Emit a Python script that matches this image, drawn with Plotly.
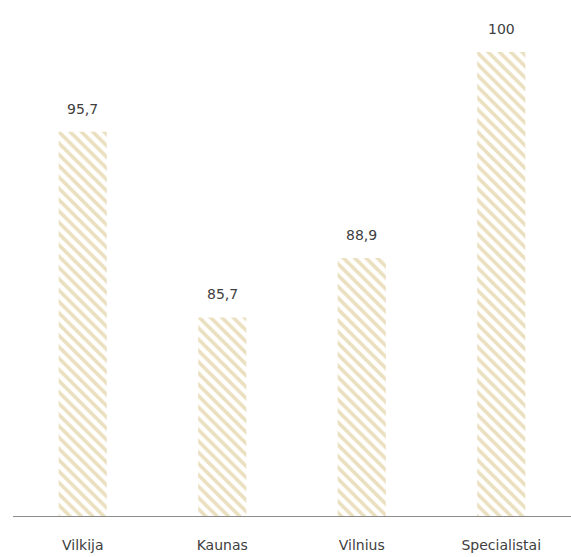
import plotly.graph_objects as go

categories = ["Vilkija", "Kaunas", "Vilnius", "Specialistai"]
values = [95.7, 85.7, 88.9, 100]

gold = "#D6BF7E"
text_color = "#404040"
font_family = "DejaVu Sans"

fig = go.Figure(
    go.Bar(
        x=categories,
        y=values,
        width=0.345,
        marker=dict(
            color="white",
            line=dict(width=0),
            pattern=dict(shape="\\", fgcolor=gold, bgcolor="white",
                         size=8, solidity=0.45, fillmode="overlay"),
        ),
        cliponaxis=False,
        hoverinfo="x+y",
    )
)

# value labels sitting above each bar
for cat, val in zip(categories, values):
    fig.add_annotation(
        x=cat, y=val,
        text=f"{val:g}".replace(".", ","),
        showarrow=False,
        yanchor="bottom",
        yshift=13,
        font=dict(family=font_family, size=14, color=text_color),
    )

fig.update_layout(
    width=571,
    height=557,
    margin=dict(l=13, r=0, t=52, b=41),
    paper_bgcolor="white",
    plot_bgcolor="white",
    separators=",.",
    showlegend=False,
    xaxis=dict(
        showline=True,
        linecolor="#8c8c8c",
        linewidth=1,
        ticks="",
        ticklabelstandoff=16,
        tickfont=dict(family=font_family, size=14, color=text_color),
    ),
    yaxis=dict(
        range=[75, 100],
        visible=False,
        showgrid=False,
    ),
)

fig.write_html("out.html")
